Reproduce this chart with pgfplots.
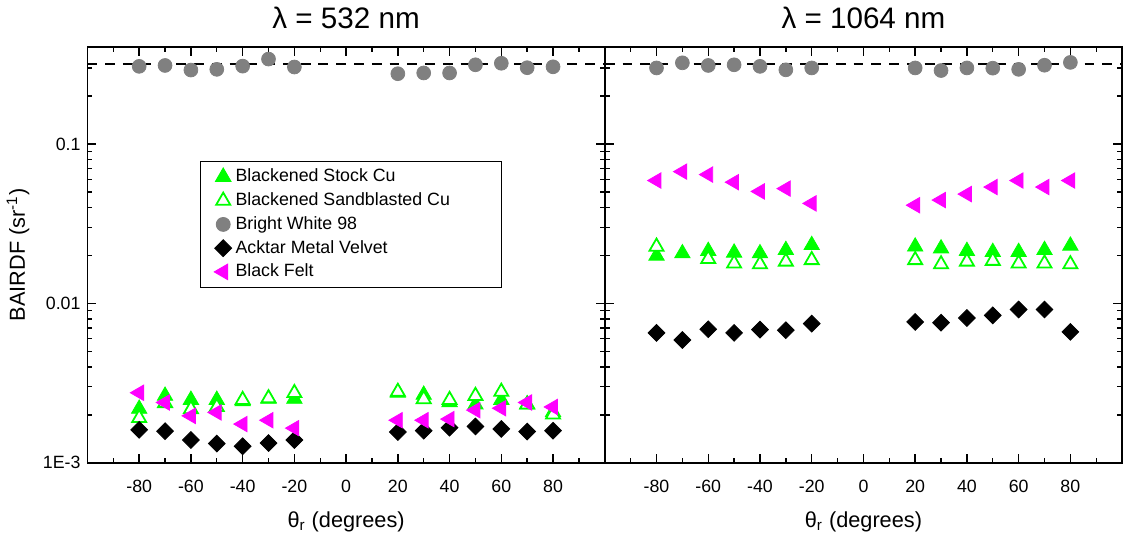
\documentclass[border=0pt]{standalone}
\usepackage{fontspec}
\setmainfont{Liberation Sans}
\usepackage{pgfplots}
\usepackage{pgfplotstable}
\pgfplotsset{compat=1.18}
\definecolor{lgreen}{RGB}{0,255,0}
\definecolor{lmag}{RGB}{255,0,255}
\definecolor{lgray}{RGB}{128,128,128}

% lambda = 532 nm
\pgfplotstableread{
x    stock    sand     bw     ack      felt
-80  0.00218  0.00191  0.307  0.00161  0.00275
-70  0.00263  0.00237  0.311  0.00158  0.00239
-60  0.00248  0.00217  0.291  0.00139  0.00197
-50  0.00248  0.00224  0.294  0.00132  0.00207
-40  0.00243  0.00248  0.308  0.00127  0.00175
-30  0.00252  0.00254  0.341  0.00133  0.00185
-20  0.00252  0.00274  0.304  0.00139  0.00165
20   0.00275  0.00279  0.276  0.00156  0.00185
30   0.00267  0.00251  0.279  0.00159  0.00185
40   0.00240  0.00248  0.279  0.00166  0.00188
50   0.00232  0.00263  0.314  0.00169  0.00214
60   0.00248  0.00279  0.321  0.00163  0.00220
70   0.00232  0.00232  0.301  0.00157  0.00239
80   0.00208  0.00201  0.305  0.00159  0.00224
}\tgreen

% lambda = 1064 nm
\pgfplotstableread{
x    stock   sand    bw     ack      felt
-80  0.0199  0.0227  0.300  0.00653  0.0590
-70  0.0206  nan     0.323  0.00589  0.0671
-60  0.0213  0.0190  0.311  0.00689  0.0643
-50  0.0208  0.0178  0.314  0.00653  0.0576
-40  0.0206  0.0176  0.307  0.00685  0.0504
-30  0.0216  0.0183  0.292  0.00679  0.0525
-20  0.0232  0.0187  0.300  0.00747  0.0424
20   0.0227  0.0187  0.300  0.00765  0.0413
30   0.0221  0.0176  0.289  0.00757  0.0445
40   0.0213  0.0183  0.300  0.00810  0.0485
50   0.0210  0.0185  0.299  0.00841  0.0537
60   0.0210  0.0178  0.294  0.00916  0.0590
70   0.0216  0.0178  0.312  0.00916  0.0537
80   0.0230  0.0176  0.325  0.00663  0.0590
}\tir

\pgfplotsset{
  every axis/.append style={
    width=262pt, height=210.5pt, scale only axis,
    xmin=-100, xmax=100, ymin=0.001, ymax=0.405,
    xtick={-80,-60,...,80}, minor xtick={-90,-70,...,90},
    ytick={0.001,0.01,0.1},
    minor ytick={0.002,0.003,0.004,0.005,0.006,0.007,0.008,0.009,
                 0.02,0.03,0.04,0.05,0.06,0.07,0.08,0.09,0.2,0.3},
    tick align=inside, major tick length=4.5pt, minor tick length=2.5pt,
    axis line style={line width=0.9pt},
    every tick/.style={black, line width=0.7pt},
    tick label style={font=\fontsize{9}{11}\selectfont},
    title style={font=\fontsize{15}{18}\selectfont},
    label style={font=\fontsize{11}{13}\selectfont},
    xlabel style={yshift=-3pt},
    xticklabel style={yshift=-5pt},
  },
  pstock/.style={only marks, mark=triangle*, mark size=4.5pt, color=lgreen},
  psand/.style={only marks, mark=triangle*, mark size=4.1pt, color=lgreen,
                mark options={fill=white, draw=lgreen, line width=0.9pt}},
  pbw/.style={only marks, mark=*, mark size=3.5pt, color=lgray},
  pack/.style={only marks, mark=square*, mark size=3pt, color=black,
               mark options={rotate=45}},
  pfelt/.style={only marks, mark=triangle*, mark size=4.5pt, color=lmag,
                mark options={rotate=90}},
  lamb/.style={black, line width=1pt, dash pattern=on 5pt off 4pt, forget plot},
}

\begin{document}
\begin{tikzpicture}
\begin{semilogyaxis}[name=ax1,
    /pgf/number format/assume math mode=true,
    title={λ = 532 nm},
    xlabel={θ\textsubscript{r} (degrees)},
    ylabel={BAIRDF (sr\textsuperscript{-1})},
    yticklabels={1E-3,0.01,0.1},
    legend style={at={(0.2176,0.727)}, anchor=north west, draw=black,
                  line width=0.5pt, font=\fontsize{9}{11}\selectfont,
                  inner xsep=7pt, inner ysep=2pt},
    legend cell align=left,
  ]
  \addplot[pstock] table[x=x, y=stock] {\tgreen};
  \addplot[psand]  table[x=x, y=sand]  {\tgreen};
  \addplot[pbw]    table[x=x, y=bw]    {\tgreen};
  \addplot[pack]   table[x=x, y=ack]   {\tgreen};
  \addplot[pfelt]  table[x=x, y=felt]  {\tgreen};
  \addplot[lamb] coordinates {(-100,0.3183) (100,0.3183)};
  \legend{Blackened Stock Cu, Blackened Sandblasted Cu\rule{17pt}{0pt}, Bright White 98,
          Acktar Metal Velvet, Black Felt}
\end{semilogyaxis}
\begin{semilogyaxis}[at={(ax1.south east)}, anchor=south west,
    /pgf/number format/assume math mode=true,
    title={λ = 1064 nm},
    xlabel={θ\textsubscript{r} (degrees)},
    yticklabels={},
  ]
  \addplot[pstock] table[x=x, y=stock] {\tir};
  \addplot[psand]  table[x=x, y=sand]  {\tir};
  \addplot[pbw]    table[x=x, y=bw]    {\tir};
  \addplot[pack]   table[x=x, y=ack]   {\tir};
  \addplot[pfelt]  table[x=x, y=felt]  {\tir};
  \addplot[lamb] coordinates {(-100,0.3183) (100,0.3183)};
\end{semilogyaxis}
\end{tikzpicture}
\end{document}
